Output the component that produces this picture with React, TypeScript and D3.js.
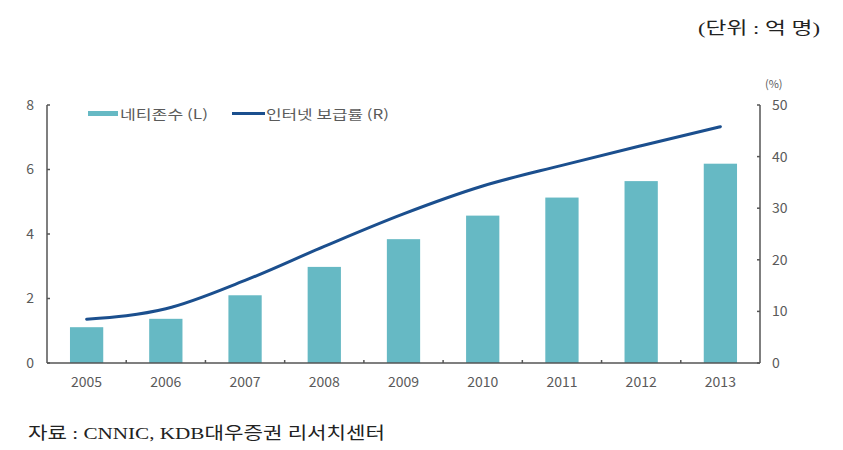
import React from "react";
import * as d3 from "d3";

const years = ["2005", "2006", "2007", "2008", "2009", "2010", "2011", "2012", "2013"];
const netizens = [1.11, 1.37, 2.1, 2.98, 3.84, 4.57, 5.13, 5.64, 6.18];
const penetration = [8.5, 10.5, 16.0, 22.6, 28.9, 34.3, 38.3, 42.1, 45.8];
const leftTicks = [0, 2, 4, 6, 8];
const rightTicks = [0, 10, 20, 30, 40, 50];

const W = 843, H = 450;
const M = { left: 47, right: 760, top: 105, bottom: 363 };
const barColor = "#66b9c4";
const lineColor = "#1b4f8e";
const axisColor = "#555";
const labelColor = "#5a5a5a";
const sans = "'Noto Sans CJK KR', 'Liberation Sans', sans-serif";
const serif = "'Liberation Serif', 'Noto Sans CJK KR', serif";

export default function App() {
  const x = d3.scaleBand<string>().domain(years).range([M.left, M.right]).padding(0);
  const yL = d3.scaleLinear().domain([0, 8]).range([M.bottom, M.top]);
  const yR = d3.scaleLinear().domain([0, 50]).range([M.bottom, M.top]);
  const bw = x.bandwidth() * 0.42;
  const line = d3
    .line<number>()
    .x((_, i) => (x(years[i]) as number) + x.bandwidth() / 2)
    .y((d) => yR(d))
    .curve(d3.curveMonotoneX);

  return (
    <svg width={W} height={H} style={{ position: "absolute", left: 0, top: 0, background: "#fff" }}>
      <text x={698} y={34} textLength={122} lengthAdjust="spacingAndGlyphs" fontFamily={serif} fontSize={17} fill="#222">
        (단위 : 억 명)
      </text>
      {/* bars */}
      {years.map((yr, i) => (
        <rect
          key={yr}
          x={(x(yr) as number) + x.bandwidth() / 2 - bw / 2}
          y={yL(netizens[i])}
          width={bw}
          height={yL(0) - yL(netizens[i])}
          fill={barColor}
        />
      ))}
      {/* line */}
      <path d={line(penetration) || ""} fill="none" stroke={lineColor} strokeWidth={3} strokeLinecap="round" />
      {/* left axis */}
      <line x1={M.left} x2={M.left} y1={M.top} y2={M.bottom} stroke={axisColor} strokeWidth={1.5} />
      {leftTicks.map((t) => (
        <g key={"l" + t}>
          <line x1={M.left} x2={M.left + 3} y1={yL(t)} y2={yL(t)} stroke={axisColor} strokeWidth={1.5} />
          <text x={34} y={yL(t)} dy="0.35em" textAnchor="end" fontFamily={sans} fontSize={14} fill={labelColor}>
            {t}
          </text>
        </g>
      ))}
      {/* right axis */}
      <line x1={M.right} x2={M.right} y1={M.top} y2={M.bottom} stroke={axisColor} strokeWidth={1.5} />
      {rightTicks.map((t) => (
        <g key={"r" + t}>
          <line x1={M.right - 3} x2={M.right} y1={yR(t)} y2={yR(t)} stroke={axisColor} strokeWidth={1.5} />
          <text x={772} y={yR(t)} dy="0.35em" textAnchor="start" fontFamily={sans} fontSize={14} fill={labelColor}>
            {t}
          </text>
        </g>
      ))}
      <text x={765} y={88} fontFamily={sans} fontSize={11} fill={labelColor}>
        (%)
      </text>
      {/* x axis */}
      <line x1={M.left} x2={M.right} y1={M.bottom} y2={M.bottom} stroke={axisColor} strokeWidth={1.5} />
      {years.slice(1).map((yr) => (
        <line key={"t" + yr} x1={x(yr) as number} x2={x(yr) as number} y1={M.bottom - 3} y2={M.bottom} stroke={axisColor} strokeWidth={1.5} />
      ))}
      {years.map((yr) => (
        <text
          key={"x" + yr}
          x={(x(yr) as number) + x.bandwidth() / 2}
          y={382}
          dy="0.35em"
          textAnchor="middle"
          fontFamily={sans}
          fontSize={14}
          fill={labelColor}
        >
          {yr}
        </text>
      ))}
      {/* legend */}
      <rect x={88} y={111} width={30} height={5} fill={barColor} />
      <text x={120} y={114} dy="0.35em" textLength={88} lengthAdjust="spacingAndGlyphs" fontFamily={sans} fontSize={13} fill={labelColor}>
        네티존수 (L)
      </text>
      <line x1={232} x2={265} y1={113.5} y2={113.5} stroke={lineColor} strokeWidth={3} />
      <text x={266} y={114} dy="0.35em" textLength={123} lengthAdjust="spacingAndGlyphs" fontFamily={sans} fontSize={13} fill={labelColor}>
        인터넷 보급률 (R)
      </text>
      {/* source */}
      <text x={28} y={433} dy="0.35em" textLength={357} lengthAdjust="spacingAndGlyphs" fontFamily={serif} fontSize={17} fill="#222">
        자료 : CNNIC, KDB대우증권 리서치센터
      </text>
    </svg>
  );
}
